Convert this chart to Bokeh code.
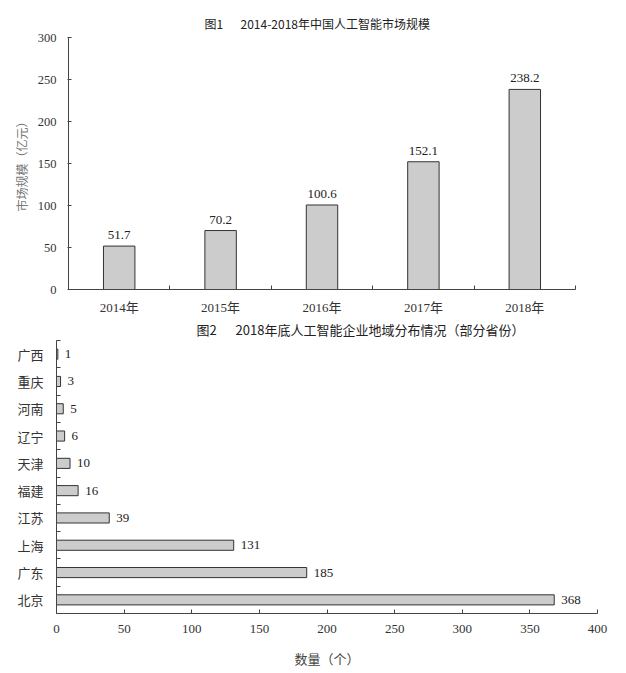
from bokeh.plotting import figure
from bokeh.models import Range1d, FixedTicker, Title, ColumnDataSource
from bokeh.embed import file_html
from bokeh.resources import INLINE
from bokeh.core.properties import value
import numpy as np

# ---- data: figure 1 ----
years = ["2014年", "2015年", "2016年", "2017年", "2018年"]
market = [51.7, 70.2, 100.6, 152.1, 238.2]
market_labels = ["51.7", "70.2", "100.6", "152.1", "238.2"]
y1_ticks = [0, 50, 100, 150, 200, 250, 300]

# ---- data: figure 2 (top to bottom) ----
provinces = ["广西", "重庆", "河南", "辽宁", "天津", "福建", "江苏", "上海", "广东", "北京"]
counts = [1, 3, 5, 6, 10, 16, 39, 131, 185, 368]
x2_ticks = [0, 50, 100, 150, 200, 250, 300, 350, 400]

title1 = "图1\u3000\u00a0\u00a02014-2018年中国人工智能市场规模"
title2 = "图2\u3000\u00a0\u00a02018年底人工智能企业地域分布情况（部分省份）"

SERIF = "'Liberation Serif', 'Noto Sans CJK SC', serif"
SANS = "'Noto Sans CJK SC', sans-serif"
AXIS_C = "#444444"
BAR_FILL = "#cccccc"
BAR_LINE = "#333333"

# ================= Figure 1 =================
p1 = figure(width=610, height=318, x_range=Range1d(0, len(years)), y_range=Range1d(0, 300),
            output_backend="svg", toolbar_location=None,
            min_border_left=68, min_border_right=35, min_border_top=37, min_border_bottom=29)
p1.outline_line_color = None
p1.grid.visible = False

xs1 = np.arange(len(years)) + 0.5
src1 = ColumnDataSource(dict(x=xs1, top=market, label=market_labels))
p1.vbar(x="x", top="top", bottom=0, width=0.31, source=src1,
        fill_color=BAR_FILL, line_color=BAR_LINE, line_width=1)
p1.text(x="x", y="top", text="label", source=src1, text_align="center", text_baseline="bottom",
        y_offset=-7, text_font=value(SERIF), text_font_size="13px", text_color="#222222")

# transparent spacer panel between the frame and the title
spacer = Title(text=".", standoff=5, text_font_size="2px", text_alpha=0.0)
p1.add_layout(spacer, "above")
t1 = Title(text=title1, align="left", offset=136, standoff=10, vertical_align="middle",
           text_font=SANS, text_font_size="12px", text_font_style="normal", text_color="#222222")
p1.add_layout(t1, "above")

xa = p1.xaxis[0]
xa.ticker = FixedTicker(ticks=list(xs1), minor_ticks=list(range(len(years) + 1)))
xa.major_label_overrides = {float(x): y for x, y in zip(xs1, years)}
xa.major_tick_line_color = None
xa.major_tick_in = 0
xa.major_tick_out = 0
xa.minor_tick_in = 4
xa.minor_tick_out = 0
xa.minor_tick_line_color = AXIS_C
xa.axis_line_color = AXIS_C
xa.major_label_standoff = 10
xa.major_label_text_font = SERIF
xa.major_label_text_font_size = "13px"
xa.major_label_text_color = "#333333"

ya = p1.yaxis[0]
ya.ticker = FixedTicker(ticks=y1_ticks)
ya.major_tick_in = 3
ya.major_tick_out = 1
ya.minor_tick_line_color = None
ya.major_tick_line_color = AXIS_C
ya.axis_line_color = AXIS_C
ya.major_label_standoff = 11
ya.major_label_text_font = SERIF
ya.major_label_text_font_size = "12.5px"
ya.major_label_text_color = "#333333"
ya.axis_label = "市场规模（亿元）"
ya.axis_label_text_font = SANS
ya.axis_label_text_font_style = "normal"
ya.axis_label_text_font_size = "12px"
ya.axis_label_text_color = "#777777"
ya.axis_label_standoff = 5

# ================= Figure 2 =================
n = len(provinces)
p2 = figure(width=610, height=354, x_range=Range1d(0, 400), y_range=Range1d(0, n),
            output_backend="svg", toolbar_location=None,
            min_border_left=56, min_border_right=13, min_border_top=22, min_border_bottom=59)
p2.outline_line_color = None
p2.grid.visible = False

ys2 = (n - 1 - np.arange(n)) + 0.5
src2 = ColumnDataSource(dict(y=ys2, right=counts, label=[str(c) for c in counts]))
p2.hbar(y="y", right="right", left=0, height=0.37, source=src2,
        fill_color=BAR_FILL, line_color=BAR_LINE, line_width=1)
p2.text(x="right", y="y", text="label", source=src2, text_align="left", text_baseline="middle",
        x_offset=7, text_font=value(SERIF), text_font_size="13px", text_color="#222222")

t2 = Title(text=title2, align="left", offset=140, standoff=0, vertical_align="top",
           text_font=SANS, text_font_size="13px", text_font_style="normal", text_color="#222222")
p2.add_layout(t2, "above")

xb = p2.xaxis[0]
xb.ticker = FixedTicker(ticks=x2_ticks)
xb.major_tick_in = 4
xb.major_tick_out = 0
xb.minor_tick_line_color = None
xb.major_tick_line_color = AXIS_C
xb.axis_line_color = AXIS_C
xb.major_label_standoff = 11
xb.major_label_text_font = SERIF
xb.major_label_text_font_size = "13px"
xb.major_label_text_color = "#333333"
xb.axis_label = "数量（个）"
xb.axis_label_text_font = SANS
xb.axis_label_text_font_style = "normal"
xb.axis_label_text_font_size = "13px"
xb.axis_label_text_color = "#444444"
xb.axis_label_standoff = 13

yb = p2.yaxis[0]
yb.ticker = FixedTicker(ticks=list(ys2), minor_ticks=list(range(n + 1)))
yb.major_label_overrides = {float(y): p for y, p in zip(ys2, provinces)}
yb.major_tick_line_color = None
yb.major_tick_in = 0
yb.major_tick_out = 0
yb.minor_tick_in = 4
yb.minor_tick_out = 0
yb.minor_tick_line_color = AXIS_C
yb.axis_line_color = AXIS_C
yb.major_label_standoff = 13
yb.major_label_text_font = SANS
yb.major_label_text_font_size = "13px"
yb.major_label_text_color = "#333333"

open("out.html", "w").write(file_html([p1, p2], INLINE))
